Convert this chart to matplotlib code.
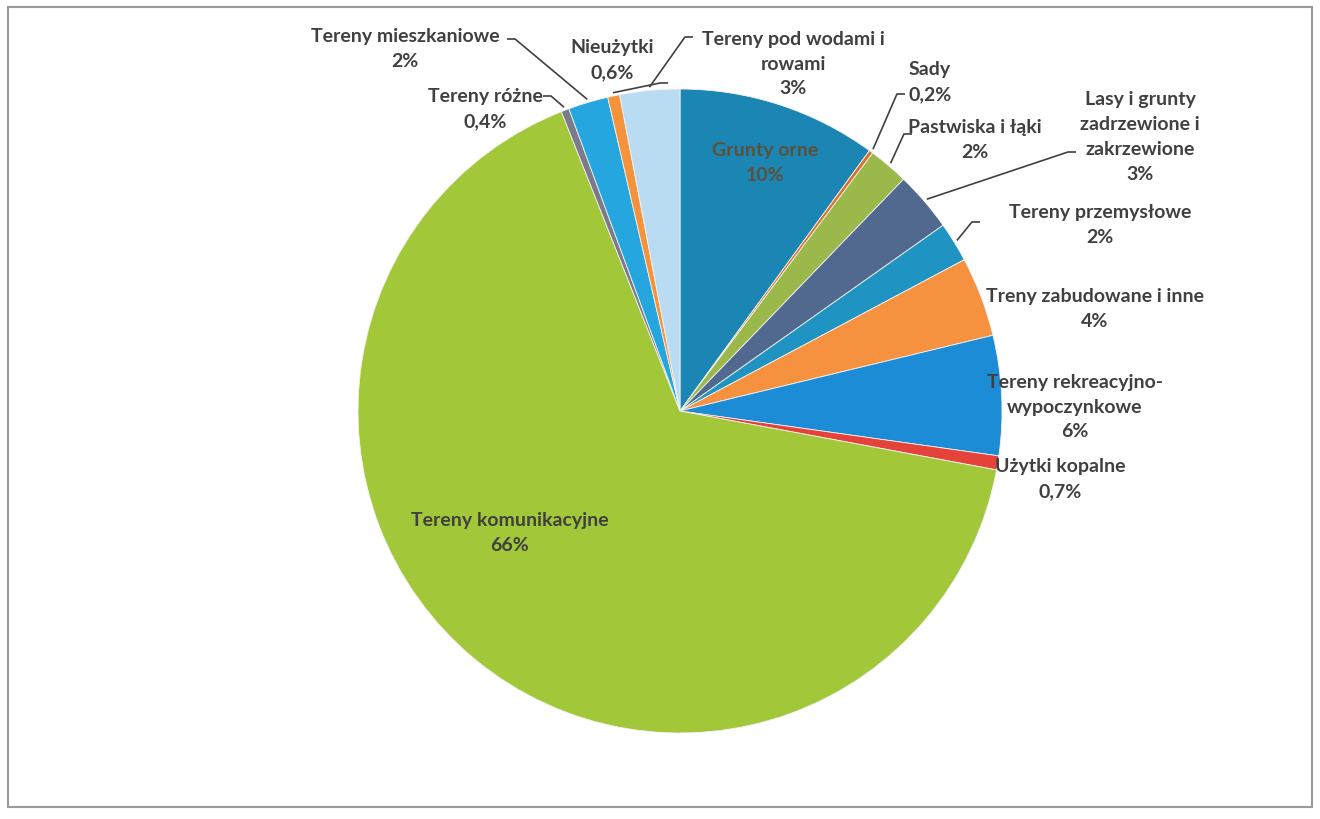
import numpy as np
import matplotlib.pyplot as plt
from matplotlib.patches import Rectangle

plt.rcParams['font.family'] = ['Lato', 'DejaVu Sans']

categories = ['Grunty orne', 'Sady', 'Pastwiska i łąki',
              'Lasy i grunty\nzadrzewione i\nzakrzewione', 'Tereny przemysłowe',
              'Treny zabudowane i inne', 'Tereny rekreacyjno-\nwypoczynkowe',
              'Użytki kopalne', 'Tereny komunikacyjne', 'Tereny różne',
              'Tereny mieszkaniowe', 'Nieużytki', 'Tereny pod wodami i\nrowami']
values = [10, 0.2, 2, 3, 2, 4, 6, 0.7, 66, 0.4, 2, 0.6, 3]
pct_labels = ['10%', '0,2%', '2%', '3%', '2%', '4%', '6%', '0,7%', '66%', '0,4%', '2%', '0,6%', '3%']

colors = ['#1b86b3', '#d8702a', '#9bb84a', '#52698f', '#1f94c2', '#f6923f',
          '#1c8cd6', '#e5433a', '#a2c83a', '#7d7a8c', '#26a6df', '#f5923c', '#b9dcf3']

# label centre (pixels in the 1320x820 picture), leader start or None
label_px = [(765, 163), (930, 82), (975, 140), (1140, 137), (1100, 225),
            (1095, 309), (1075, 407), (1060, 479), (510, 533), (485, 109),
            (405, 49), (612, 60), (793, 64)]
leader_px = [None, (905, 95), (912, 135), (1076, 153), (980, 223),
             None, None, None, None, (543, 97), (507, 40), (668, 84), (693, 38)]

W, H = 1320, 820
cx, cy, R = 680, 412, 322


def to_data(p):
    return ((p[0] - cx) / R, (cy - p[1]) / R)


fig = plt.figure(figsize=(13.2, 8.2), dpi=100)
ax = fig.add_axes([0, 0, 1, 1])

wedges, _ = ax.pie(values, colors=colors, startangle=90, counterclock=False,
                   radius=1.0, center=(0, 0),
                   wedgeprops=dict(edgecolor='#f2f2f2', linewidth=0.6))
ax.set_xlim(-cx / R, (W - cx) / R)
ax.set_ylim(-(H - cy) / R, cy / R)
ax.set_aspect('equal')
ax.axis('off')

total = sum(values)
cum = np.cumsum([0] + values[:-1])
for i, name in enumerate(categories):
    col = '#5e5038' if i == 0 else '#404040'
    tx, ty = to_data(label_px[i])
    ax.text(tx, ty, name + '\n' + pct_labels[i], ha='center', va='center',
            fontsize=14, fontweight='bold', color=col, linespacing=1.55)
    if leader_px[i] is not None:
        mid = np.deg2rad(90 - 360 * (cum[i] + values[i] / 2) / total)
        ex, ey = 1.01 * np.cos(mid), 1.01 * np.sin(mid)
        lx, ly = to_data(leader_px[i])
        hx = lx + (0.025 if ex > lx else -0.025)
        ax.plot([lx, hx, ex], [ly, ly, ey], color='#404040', lw=1.2,
                solid_capstyle='butt')

fig.patches.append(Rectangle((8 / W, 1 - 808 / H), 1304 / W, 800 / H,
                             transform=fig.transFigure, fill=False,
                             edgecolor='#9a9a9a', linewidth=1.5))
fig.savefig('out.png', dpi=100)
